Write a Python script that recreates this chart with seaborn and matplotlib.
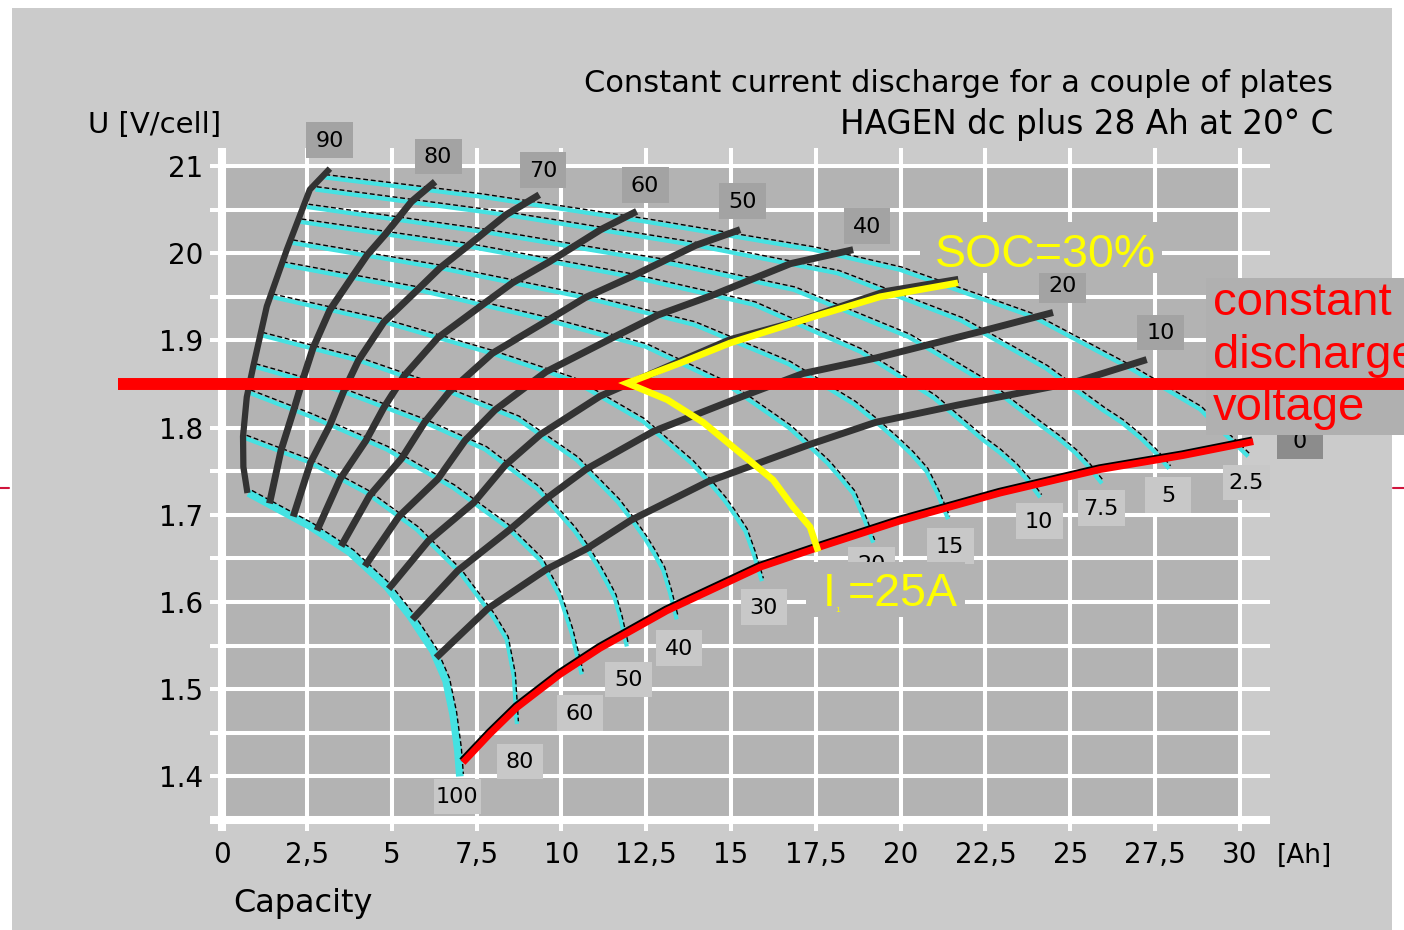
import numpy as np
import pandas as pd
import matplotlib
matplotlib.use("Agg")
import matplotlib.pyplot as plt
import matplotlib.transforms as mtransforms
from matplotlib.patches import Rectangle
import seaborn as sns

sns.set_style("white")
plt.rcParams['font.family'] = ['DejaVu Sans']
plt.rcParams['text.color'] = 'black'
plt.rcParams['xtick.color'] = 'black'
plt.rcParams['ytick.color'] = 'black'

W, H = 1404, 930
PANEL = '#cbcbcb'
PLOT_BG = '#b3b3b3'
CYAN = '#45e2e2'
DARK = '#333333'

# constant current discharge curves, capacity [Ah] and voltage [V/cell]
currents = ['2.5', '5', '7.5', '10', '15', '20', '30', '40', '50', '60', '80', '100']
i2_5_cap = [3.00, 7.60, 12.52, 17.42, 19.98, 23.90, 26.85, 28.82, 29.41, 30.24]
i2_5_u = [2.087, 2.065, 2.036, 2.004, 1.981, 1.927, 1.866, 1.821, 1.798, 1.767]
i5_cap = [2.75, 8.37, 13.96, 18.14, 21.77, 24.28, 25.12, 25.96, 26.51, 27.07, 27.49, 27.91]
i5_u = [2.073, 2.044, 2.009, 1.977, 1.923, 1.868, 1.844, 1.820, 1.806, 1.788, 1.772, 1.753]
i7_5_cap = [2.50, 7.78, 12.97, 16.85, 20.23, 22.56, 23.34, 24.11, 24.63, 25.15, 25.54, 25.93]
i7_5_u = [2.053, 2.024, 1.990, 1.958, 1.904, 1.850, 1.826, 1.803, 1.788, 1.771, 1.755, 1.736]
i10_cap = [2.30, 7.23, 12.06, 15.67, 18.81, 20.98, 21.70, 22.42, 22.90, 23.39, 23.75, 24.11]
i10_u = [2.036, 2.008, 1.973, 1.941, 1.887, 1.834, 1.810, 1.786, 1.772, 1.755, 1.739, 1.720]
i15_cap = [2.05, 6.42, 10.70, 13.91, 16.69, 18.62, 19.26, 19.90, 20.33, 20.76, 21.08, 21.40]
i15_u = [2.012, 1.983, 1.949, 1.918, 1.873, 1.827, 1.807, 1.785, 1.769, 1.750, 1.725, 1.695]
i20_cap = [1.75, 5.76, 9.60, 12.47, 14.97, 16.70, 17.27, 17.85, 18.23, 18.61, 18.90, 19.19]
i20_u = [1.987, 1.958, 1.923, 1.893, 1.847, 1.800, 1.780, 1.759, 1.742, 1.724, 1.698, 1.668]
i30_cap = [1.45, 4.77, 7.96, 10.34, 12.41, 13.84, 14.32, 14.80, 15.11, 15.43, 15.67, 15.91]
i30_u = [1.950, 1.921, 1.885, 1.854, 1.807, 1.759, 1.739, 1.717, 1.700, 1.681, 1.655, 1.624]
i40_cap = [1.15, 4.02, 6.70, 8.71, 10.45, 11.66, 12.06, 12.46, 12.73, 13.00, 13.20, 13.40]
i40_u = [1.906, 1.877, 1.841, 1.810, 1.763, 1.715, 1.695, 1.673, 1.656, 1.637, 1.611, 1.580]
i50_cap = [0.95, 3.58, 5.97, 7.75, 9.31, 10.38, 10.74, 11.09, 11.33, 11.57, 11.75, 11.93]
i50_u = [1.870, 1.841, 1.806, 1.775, 1.729, 1.682, 1.662, 1.640, 1.623, 1.605, 1.580, 1.549]
i60_cap = [0.80, 2.59, 4.85, 6.81, 8.39, 9.40, 9.95, 10.30, 10.60]
i60_u = [1.840, 1.813, 1.775, 1.731, 1.686, 1.647, 1.607, 1.565, 1.517]
i80_cap = [0.68, 2.59, 4.26, 5.74, 7.01, 7.99, 8.39, 8.60, 8.69]
i80_u = [1.788, 1.760, 1.725, 1.683, 1.634, 1.583, 1.557, 1.515, 1.460]
i100_cap = [0.78, 2.59, 3.77, 4.85, 5.54, 6.22, 6.60, 6.81, 6.95, 7.01]
i100_u = [1.725, 1.687, 1.657, 1.618, 1.584, 1.544, 1.510, 1.471, 1.430, 1.400]

cur_caps = [i2_5_cap, i5_cap, i7_5_cap, i10_cap, i15_cap, i20_cap,
            i30_cap, i40_cap, i50_cap, i60_cap, i80_cap, i100_cap]
cur_us = [i2_5_u, i5_u, i7_5_u, i10_u, i15_u, i20_u,
          i30_u, i40_u, i50_u, i60_u, i80_u, i100_u]

# state of charge lines [%]
soc90_cap = [3.18, 2.59, 1.91, 1.32, 0.92, 0.73, 0.62, 0.63, 0.75]
soc90_u = [2.097, 2.073, 2.004, 1.939, 1.870, 1.835, 1.790, 1.755, 1.725]
soc80_cap = [1.40, 1.74, 2.12, 2.39, 2.68, 3.18, 3.84, 4.28, 4.82, 5.58, 6.28]
soc80_u = [1.713, 1.774, 1.821, 1.856, 1.891, 1.935, 1.973, 1.998, 2.022, 2.059, 2.082]
soc70_cap = [2.10, 2.61, 3.18, 3.58, 4.02, 4.77, 5.76, 6.42, 7.23, 8.37, 9.35]
soc70_u = [1.698, 1.760, 1.803, 1.841, 1.877, 1.921, 1.958, 1.983, 2.008, 2.044, 2.067]
soc60_cap = [2.80, 3.48, 4.24, 4.77, 5.36, 6.36, 7.68, 8.56, 9.64, 11.16, 12.22]
soc60_u = [1.682, 1.741, 1.785, 1.823, 1.859, 1.903, 1.941, 1.966, 1.990, 2.027, 2.048]
soc50_cap = [3.51, 4.35, 5.30, 5.97, 6.70, 7.96, 9.60, 10.70, 12.06, 13.96, 15.27]
soc50_u = [1.664, 1.722, 1.765, 1.806, 1.841, 1.885, 1.923, 1.949, 1.973, 2.009, 2.027]
soc40_cap = [4.21, 5.21, 6.36, 7.16, 8.04, 9.55, 11.51, 12.84, 14.47, 16.75, 18.60]
soc40_u = [1.641, 1.698, 1.741, 1.785, 1.820, 1.864, 1.903, 1.929, 1.952, 1.988, 2.004]
soc30_cap = [4.91, 6.08, 7.42, 8.35, 9.38, 11.14, 13.43, 14.98, 16.88, 19.54, 21.70]
soc30_u = [1.615, 1.670, 1.714, 1.757, 1.792, 1.836, 1.875, 1.901, 1.921, 1.956, 1.970]
soc20_cap = [5.61, 6.95, 8.48, 9.54, 10.72, 12.73, 15.35, 17.12, 19.29, 22.33, 24.49]
soc20_u = [1.580, 1.636, 1.683, 1.718, 1.752, 1.796, 1.836, 1.862, 1.880, 1.910, 1.932]
soc10_cap = [6.31, 7.82, 9.54, 10.74, 12.06, 14.32, 17.27, 19.26, 21.70, 25.12, 27.25]
soc10_u = [1.536, 1.592, 1.637, 1.661, 1.694, 1.738, 1.780, 1.806, 1.826, 1.852, 1.878]
soc0_cap = [7.10, 7.90, 8.69, 9.96, 11.14, 13.11, 15.86, 17.53, 19.98, 22.93, 25.88, 28.32, 30.39]
soc0_u = [1.416, 1.449, 1.479, 1.517, 1.547, 1.590, 1.640, 1.662, 1.693, 1.725, 1.752, 1.768, 1.784]

soc_names = ['80', '70', '60', '50', '40', '30', '20', '10']
soc_caps = [soc80_cap, soc70_cap, soc60_cap, soc50_cap, soc40_cap, soc30_cap, soc20_cap, soc10_cap]
soc_us = [soc80_u, soc70_u, soc60_u, soc50_u, soc40_u, soc30_u, soc20_u, soc10_u]

# example: 25 A at constant voltage 1.85 V -> SOC 30 %
const_u = 1.85
path_cap = [21.69, 19.39, 17.42, 14.97, 13.50, 11.94, 13.12, 14.18, 15.27, 16.24, 16.83, 17.33, 17.57]
path_u = [1.966, 1.950, 1.927, 1.897, 1.874, 1.851, 1.832, 1.806, 1.771, 1.740, 1.709, 1.686, 1.658]

# labels (the SOC 30 label is hidden by the SOC=30% note)
soc_labels = ['90', '80', '70', '60', '50', '40', '20', '10', '0']
soc_lab_x = [3.18, 6.37, 9.46, 12.47, 15.33, 19.01, 24.76, 27.65, 31.77]
soc_lab_y = [2.130, 2.111, 2.095, 2.078, 2.060, 2.031, 1.963, 1.909, 1.785]
cur_lab_x = [30.18, 27.88, 25.91, 24.08, 21.46, 19.13, 15.97, 13.47, 11.97, 10.55, 8.78, 6.93]
cur_lab_y = [1.737, 1.723, 1.708, 1.693, 1.664, 1.643, 1.594, 1.547, 1.511, 1.473, 1.417, 1.377]

xticks = [0, 2.5, 5, 7.5, 10, 12.5, 15, 17.5, 20, 22.5, 25, 27.5, 30]
xlabels = ['0', '2,5', '5', '7,5', '10', '12,5', '15', '17,5', '20', '22,5', '25', '27,5', '30']
yticks = [1.4, 1.5, 1.6, 1.7, 1.8, 1.9, 2.0, 2.1]
ylabels = ['1.4', '1.5', '1.6', '1.7', '1.8', '1.9', '20', '21']


def long_form(names, xs, ys):
    rows = []
    for n, xx, yy in zip(names, xs, ys):
        for a, b in zip(xx, yy):
            rows.append((n, a, b))
    return pd.DataFrame(rows, columns=['curve', 'cap', 'u'])


cur_df = long_form(currents, cur_caps, cur_us)
soc_df = long_form(soc_names, soc_caps, soc_us)

fig = plt.figure(figsize=(W / 100, H / 100), dpi=100, facecolor='white')
bg = fig.add_axes([0, 0, 1, 1], zorder=-5)
bg.set_axis_off()
bg.add_patch(Rectangle((12 / W, 0), 1380 / W, 1 - 8 / H, transform=bg.transAxes, color=PANEL, lw=0))

ax = fig.add_axes([222 / W, 1 - 820 / H, 1018 / W, 654 / H])
ax.set_facecolor(PLOT_BG)
ax.set_xlim(0, 30)
ax.set_ylim(1.35, 2.1)
for s in ax.spines.values():
    s.set_visible(False)


def shifted(dx, dy):
    return ax.transData + mtransforms.ScaledTranslation(dx / 100, dy / 100, fig.dpi_scale_trans)


def fig_text(x, y, s, **kw):
    return ax.text(x / W, 1 - y / H, s, transform=fig.transFigure, clip_on=False, **kw)


def fig_box(x0, y0, x1, y1, color, z):
    ax.add_patch(Rectangle((x0 / W, 1 - y1 / H), (x1 - x0) / W, (y1 - y0) / H,
                           transform=fig.transFigure, color=color, lw=0, zorder=z, clip_on=False))


# white grid
grid_y = np.round(np.arange(1.35, 2.1001, 0.05), 2)
ax.hlines(grid_y, -0.35, 30.88, color='white', lw=2.9, zorder=1, clip_on=False)
ax.hlines(1.35, -0.35, 30.88, color='white', lw=5.8, zorder=1.1, clip_on=False)
ax.vlines(xticks, 1.337, 2.121, color='white', lw=2.9, zorder=1, clip_on=False)
ax.vlines(0, 1.337, 2.121, color='white', lw=5.8, zorder=1.1, clip_on=False)

# discharge curves
thin = cur_df[cur_df['curve'] != '100']
sns.lineplot(data=thin, x='cap', y='u', units='curve', estimator=None, sort=False,
             color=CYAN, lw=3.0, ax=ax, zorder=3, clip_on=False, solid_capstyle='butt')
sns.lineplot(data=cur_df[cur_df['curve'] == '100'], x='cap', y='u', units='curve', estimator=None,
             sort=False, color=CYAN, lw=5.5, ax=ax, zorder=3, clip_on=False, solid_capstyle='butt')
for name, xx, yy in zip(currents, cur_caps, cur_us):
    d = (3.5, 2.5) if name == '100' else (1.5, 2.8)
    ax.plot(xx, yy, color='black', lw=1.0, ls=(0, (3.5, 2.0)), transform=shifted(*d),
            zorder=3.2, clip_on=False)

# state of charge lines
sns.lineplot(data=soc_df, x='cap', y='u', units='curve', estimator=None, sort=False,
             color=DARK, lw=5.0, ax=ax, zorder=4, clip_on=False, solid_capstyle='butt')
ax.plot(soc90_cap, soc90_u, color=DARK, lw=4.5, zorder=4, clip_on=False, solid_capstyle='butt')

# end of discharge (0 %)
ax.plot(soc0_cap, soc0_u, color='black', lw=5.0, transform=shifted(-1.0, 1.6),
        zorder=4.8, clip_on=False, solid_capstyle='butt')
ax.plot(soc0_cap, soc0_u, color='#ff0000', lw=5.0, zorder=5, clip_on=False, solid_capstyle='butt')


def label_box(x, y, s, fc):
    ax.add_patch(Rectangle((x - 0.69, y - 0.0205), 1.38, 0.041, color=fc, lw=0, zorder=6, clip_on=False))
    ax.text(x, y - 0.001, s, ha='center', va='center', fontsize=16, color='black', zorder=6.1, clip_on=False)


for s, x, y in zip(soc_labels, soc_lab_x, soc_lab_y):
    label_box(x, y, s, '#8c8c8c' if s == '0' else '#a3a3a3')
for s, x, y in zip(currents, cur_lab_x, cur_lab_y):
    label_box(x, y, s, '#c8c8c8')

# axis texts
ax.set_xticks(xticks)
ax.set_xticklabels(xlabels, fontsize=20)
ax.set_yticks(yticks)
ax.set_yticklabels(ylabels, fontsize=20)
ax.tick_params(length=0)
ax.tick_params(axis='x', pad=15)
ax.tick_params(axis='y', pad=13.5)
ax.set_xlabel('')
ax.set_ylabel('')
ax.grid(False)

fig_text(88, 133, 'U [V/cell]', fontsize=21, va='baseline')
fig_text(233, 912, 'Capacity', fontsize=23, va='baseline')
fig_text(1277, 856, '[Ah]', fontsize=19, va='center')
fig_text(1333, 92, 'Constant current discharge for a couple of plates', fontsize=22, ha='right', va='baseline')
fig_text(1333, 134, 'HAGEN dc plus 28 Ah at 20° C', fontsize=23.5, ha='right', va='baseline')

# annotation: constant discharge voltage
fig_box(1206, 278, 1404, 435, '#b0b0b0', 6.5)
for txt, base in zip(['constant', 'discharge', 'voltage'], [315, 368, 420]):
    fig_text(1213, base, txt, fontsize=34, color='#ff0000', family='Liberation Sans',
             va='baseline', zorder=6.6)

hline = mtransforms.blended_transform_factory(fig.transFigure, ax.transData)
ax.plot([118 / W, 1.0], [const_u, const_u], color='#ff0000', lw=8.6, transform=hline,
        zorder=7, clip_on=False, solid_capstyle='butt')

ax.plot(path_cap, path_u, color='#ffff00', lw=4.8, zorder=8, clip_on=False,
        solid_joinstyle='miter', solid_capstyle='butt')

fig_box(920, 222, 1162, 273, PLOT_BG, 9)
fig_text(935, 267, 'SOC=30%', fontsize=33.5, color='#ffff00', family='Liberation Sans',
         va='baseline', zorder=9.1)
fig_box(806, 562, 965, 617, PLOT_BG, 9)
fig_text(823, 606, 'I', fontsize=33.5, color='#ffff00', family='Liberation Sans', va='baseline', zorder=9.1)
fig_text(835, 612, '1', fontsize=6, color='#ffff00', family='Liberation Sans', va='baseline', zorder=9.1)
fig_text(848, 606, '=25A', fontsize=33.5, color='#ffff00', family='Liberation Sans', va='baseline', zorder=9.1)

# slide edge marks
ax.plot([0, 9 / W], [1 - 488 / H] * 2, color='#d0143c', lw=1.5, transform=fig.transFigure, clip_on=False)
ax.plot([1393 / W, 1.0], [1 - 488 / H] * 2, color='#d0143c', lw=1.5, transform=fig.transFigure, clip_on=False)

fig.savefig('out.png', dpi=100, facecolor='white')
